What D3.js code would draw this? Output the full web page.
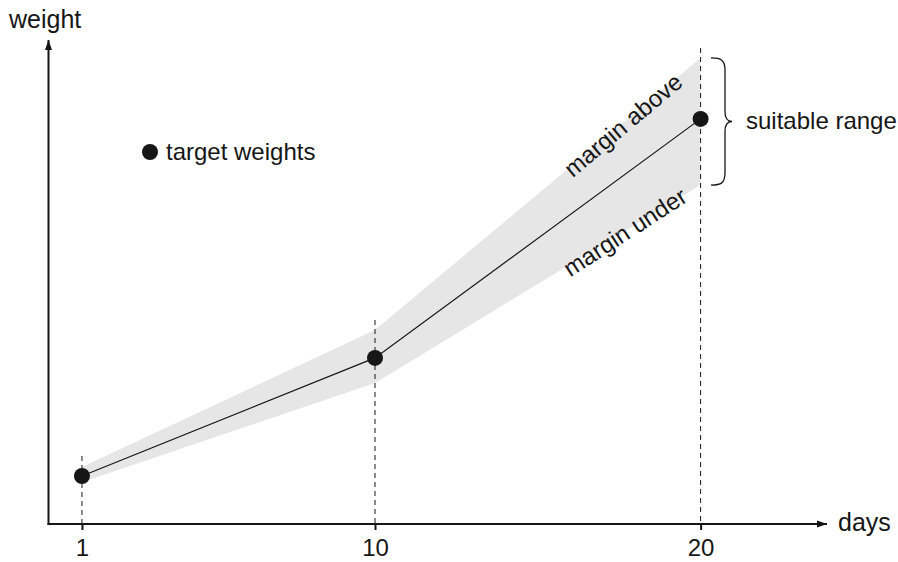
<!DOCTYPE html>
<html><head><meta charset="utf-8">
<script src="https://cdn.jsdelivr.net/npm/d3@7"></script>
<style>body{margin:0;background:#fff}svg{display:block}text{font-family:"Liberation Sans",Arial,sans-serif;fill:#161616}</style>
</head><body>
<script>
const days = [1, 10, 20];
const targetWeights = [10, 34.6, 84.4];
const upperLimit = [11.9, 40.4, 97.1];
const lowerLimit = [8.7, 29.4, 70.6];
const tickLabels = ["1", "10", "20"];

const W = 898, H = 562;
const svg = d3.select("body").append("svg").attr("width", W).attr("height", H);
const x = d3.scaleLinear().domain([0, 20]).range([49.4, 700.6]);
const y = d3.scaleLinear().domain([0, 100]).range([524, 44]);
const ink = "#161616";

const data = days.map((d, i) => ({d, t: targetWeights[i], u: upperLimit[i], l: lowerLimit[i]}));

// band
svg.append("path").datum(data)
  .attr("d", d3.area().x(p => x(p.d)).y0(p => y(p.l)).y1(p => y(p.u)))
  .attr("fill", "#e6e6e6");

// dashed guides
const guideTop = [456, 320, 48];
svg.selectAll("line.guide").data(data).join("line")
  .attr("x1", p => x(p.d)).attr("x2", p => x(p.d))
  .attr("y1", (p, i) => guideTop[i]).attr("y2", y(0))
  .attr("stroke", ink).attr("stroke-width", 1).attr("stroke-dasharray", "5,4");

// line
svg.append("path").datum(data)
  .attr("d", d3.line().x(p => x(p.d)).y(p => y(p.t)))
  .attr("fill", "none").attr("stroke", ink).attr("stroke-width", 1.2);

// points
svg.selectAll("circle.pt").data(data).join("circle")
  .attr("cx", p => x(p.d)).attr("cy", p => y(p.t)).attr("r", 8).attr("fill", ink);

// axes
const defs = svg.append("defs");
defs.append("marker").attr("id", "arr").attr("viewBox", "0 0 10 10").attr("refX", 10).attr("refY", 5)
  .attr("markerWidth", 5).attr("markerHeight", 5).attr("orient", "auto").attr("markerUnits", "strokeWidth")
  .append("path").attr("d", "M0,1.5 L10,5 L0,8.5 Z").attr("fill", ink);

svg.append("line").attr("x1", 48.5).attr("x2", 48.5).attr("y1", 525).attr("y2", 40)
  .attr("stroke", ink).attr("stroke-width", 2).attr("marker-end", "url(#arr)");
svg.append("line").attr("x1", 47.5).attr("x2", 827).attr("y1", 524).attr("y2", 524)
  .attr("stroke", ink).attr("stroke-width", 2).attr("marker-end", "url(#arr)");

const xAxis = d3.axisBottom(x).tickValues(days).tickFormat((d, i) => tickLabels[i]).tickSize(6).tickPadding(9);
const gx = svg.append("g").attr("transform", "translate(0,524)").call(xAxis);
gx.select(".domain").remove();
gx.selectAll(".tick line").attr("stroke", ink).attr("stroke-width", 2);
gx.selectAll(".tick text").attr("font-size", 24).attr("fill", ink).style("font-family", "Liberation Sans, Arial, sans-serif");

// axis titles
svg.append("text").attr("x", 9).attr("y", 28).attr("font-size", 25).text("weight");
svg.append("text").attr("x", 838).attr("y", 531).attr("font-size", 25).text("days");

// legend
svg.append("circle").attr("cx", 150).attr("cy", 152).attr("r", 8).attr("fill", ink);
svg.append("text").attr("x", 166).attr("y", 160).attr("font-size", 24).text("target weights");

// margin labels
svg.append("text").attr("transform", "translate(623,125) rotate(-40)").attr("text-anchor", "middle")
  .attr("dy", "0.35em").attr("font-size", 24).text("margin above");
svg.append("text").attr("transform", "translate(625,232) rotate(-33)").attr("text-anchor", "middle")
  .attr("dy", "0.35em").attr("font-size", 24).text("margin under");

// brace
const bx = 711, bTop = y(upperLimit[2]), bBot = y(lowerLimit[2]), bMid = (bTop + bBot) / 2;
svg.append("path")
  .attr("d", `M${bx},${bTop} C${bx+10},${bTop} ${bx+14},${bTop+2} ${bx+14},${bTop+12} L${bx+14},${bMid-10} C${bx+14},${bMid-3} ${bx+16},${bMid} ${bx+21},${bMid} C${bx+16},${bMid} ${bx+14},${bMid+3} ${bx+14},${bMid+10} L${bx+14},${bBot-12} C${bx+14},${bBot-2} ${bx+10},${bBot} ${bx},${bBot}`)
  .attr("fill", "none").attr("stroke", ink).attr("stroke-width", 1.3);
svg.append("text").attr("x", 746).attr("y", 129).attr("font-size", 24).text("suitable range");
</script>
</body></html>
